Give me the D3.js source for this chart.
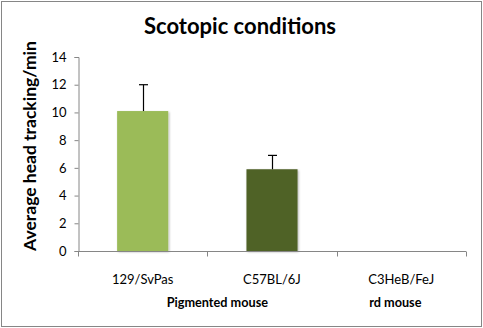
<!DOCTYPE html>
<html><head><meta charset="utf-8">
<script src="https://cdn.jsdelivr.net/npm/d3@7"></script>
<style>body{margin:0;background:#fff}svg{display:block}text{font-family:Lato,"Open Sans",sans-serif}</style>
</head><body>
<script>
const categories = ["129/SvPas", "C57BL/6J", "C3HeB/FeJ"];
const values = [10.1, 5.9, 0];
const errors = [1.9, 1.0, 0];
const colors = ["#9BBB59", "#4F6228", "#4F81BD"];
const yTicks = [0, 2, 4, 6, 8, 10, 12, 14];
const groups = [{label: "Pigmented mouse", from: 0, to: 1}, {label: "rd mouse", from: 2, to: 2}];

const W = 483, H = 328;
const svg = d3.select("body").append("svg").attr("width", W).attr("height", H);
svg.append("rect").attr("x", 1.5).attr("y", 1.5).attr("width", W - 3).attr("height", H - 3)
  .attr("fill", "#fff").attr("stroke", "#868686");

const x = d3.scaleBand().domain(categories).range([78, 466]).paddingInner(0).paddingOuter(0);
const y = d3.scaleLinear().domain([0, 14]).range([251, 57]);

const defs = svg.append("defs");
const f = defs.append("filter").attr("id", "sh").attr("x", "-20%").attr("y", "-20%").attr("width", "140%").attr("height", "140%");
f.append("feDropShadow").attr("dx", 1).attr("dy", 1).attr("stdDeviation", 1.2).attr("flood-color", "#000").attr("flood-opacity", 0.3);

// bars
const bw = x.bandwidth() * 0.395;
svg.selectAll("rect.bar").data(values).join("rect").attr("class", "bar")
  .attr("x", (d, i) => x(categories[i]) + x.bandwidth() / 2 - bw / 2)
  .attr("y", d => y(d)).attr("width", bw).attr("height", d => y(0) - y(d))
  .attr("fill", (d, i) => colors[i]).attr("filter", "url(#sh)")
  .style("display", d => d > 0 ? null : "none");

// error bars (upper)
values.forEach((v, i) => {
  if (errors[i] <= 0) return;
  const cx = Math.round(x(categories[i]) + x.bandwidth() / 2) + 0.5;
  svg.append("line").attr("x1", cx).attr("x2", cx).attr("y1", y(v)).attr("y2", y(v + errors[i])).attr("stroke", "#000").attr("stroke-width", 1.2);
  svg.append("line").attr("x1", cx - 4.5).attr("x2", cx + 4.5).attr("y1", y(v + errors[i])).attr("y2", y(v + errors[i])).attr("stroke", "#000").attr("stroke-width", 1.2);
});

// y axis
const ya = svg.append("g").attr("transform", "translate(78.5,0)")
  .call(d3.axisLeft(y).tickValues(yTicks).tickSize(4).tickPadding(8));
ya.select(".domain").attr("stroke", "#868686");
ya.selectAll(".tick line").attr("stroke", "#868686");
ya.selectAll("text").attr("font-size", 13).attr("fill", "#000");

// x axis
const xa = svg.append("g").attr("transform", "translate(0,251.5)");
xa.append("line").attr("x1", 78).attr("x2", 466).attr("stroke", "#868686");
const bounds = [78, ...categories.map(c => x(c) + x.bandwidth())];
xa.selectAll("line.t").data(bounds).join("line").attr("class", "t")
  .attr("x1", d => Math.round(d) + 0.5).attr("x2", d => Math.round(d) + 0.5).attr("y1", 0).attr("y2", 5).attr("stroke", "#868686");
xa.selectAll("text.c").data(categories).join("text").attr("class", "c")
  .attr("x", d => x(d) + x.bandwidth() / 2).attr("y", 32).attr("text-anchor", "middle")
  .attr("font-size", 13).text(d => d);
xa.selectAll("text.g").data(groups).join("text").attr("class", "g")
  .attr("x", d => (x(categories[d.from]) + x(categories[d.to]) + x.bandwidth()) / 2 + (d.from === d.to ? -6 : 10))
  .attr("y", 55).attr("text-anchor", "middle").attr("font-size", 12.7).attr("font-weight", "bold").text(d => d.label);

// titles
svg.append("text").attr("x", 240).attr("y", 34).attr("text-anchor", "middle")
  .attr("font-size", 22).attr("font-weight", "bold").text("Scotopic conditions");
svg.append("text").attr("transform", "translate(36,146) rotate(-90)").attr("text-anchor", "middle")
  .attr("font-size", 17.5).attr("font-weight", "bold").text("Average head tracking/min");
</script>
</body></html>
